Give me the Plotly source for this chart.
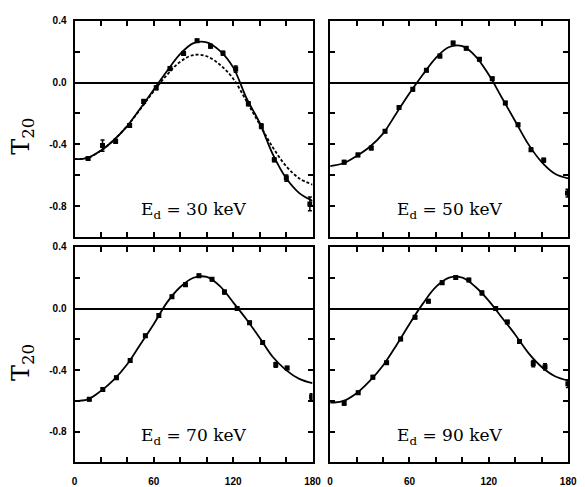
import plotly.graph_objects as go

# ---------------- data ----------------
labels = ["30", "50", "70", "90"]

# measured points: angle (deg), T20, error
ang30 = [10.3, 21.2, 31.1, 41.7, 52.3, 61.8, 72.2, 82.5, 92.7, 102.9, 112.3, 121.9, 131.5, 141.3, 151.1, 160.2, 178.0]
t30 = [-0.492, -0.408, -0.38, -0.278, -0.122, -0.034, 0.09, 0.188, 0.27, 0.235, 0.19, 0.087, -0.138, -0.282, -0.50, -0.618, -0.785]
e30 = [0.01, 0.037, 0.012, 0.012, 0.012, 0.012, 0.012, 0.012, 0.01, 0.012, 0.012, 0.02, 0.012, 0.015, 0.012, 0.02, 0.045]

ang50 = [10.6, 21.0, 31.1, 41.5, 52.1, 62.5, 72.8, 83.0, 93.0, 102.9, 112.9, 122.6, 132.5, 142.1, 151.9, 161.5, 179.5]
t50 = [-0.515, -0.468, -0.424, -0.315, -0.162, -0.044, 0.079, 0.171, 0.255, 0.222, 0.15, 0.024, -0.132, -0.273, -0.434, -0.502, -0.715]
e50 = [0.01, 0.01, 0.01, 0.01, 0.01, 0.01, 0.01, 0.01, 0.01, 0.01, 0.01, 0.01, 0.01, 0.01, 0.01, 0.012, 0.025]

ang70 = [11.2, 21.4, 31.7, 42.1, 53.6, 63.8, 73.7, 83.9, 94.1, 104.0, 113.4, 123.0, 132.4, 142.3, 152.2, 160.8, 179.3]
t70 = [-0.589, -0.526, -0.45, -0.337, -0.177, -0.045, 0.077, 0.155, 0.213, 0.19, 0.107, 0.0, -0.093, -0.221, -0.366, -0.387, -0.573]
e70 = [0.01, 0.01, 0.01, 0.01, 0.01, 0.01, 0.01, 0.01, 0.01, 0.01, 0.012, 0.01, 0.01, 0.01, 0.015, 0.01, 0.02]

ang90 = [10.6, 21.2, 32.3, 42.7, 53.3, 64.2, 74.3, 84.7, 95.0, 104.9, 114.8, 125.2, 134.0, 143.2, 153.6, 162.5, 179.8]
t90 = [-0.615, -0.547, -0.446, -0.352, -0.198, -0.057, 0.048, 0.168, 0.202, 0.185, 0.101, 0.0, -0.088, -0.215, -0.358, -0.379, -0.488]
e90 = [0.012, 0.01, 0.01, 0.01, 0.01, 0.01, 0.01, 0.01, 0.01, 0.01, 0.012, 0.01, 0.01, 0.01, 0.02, 0.02, 0.025]

# fitted curves, read every 10 degrees
curve_ang = [0, 10, 20, 30, 40, 50, 60, 70, 80, 90, 100, 110, 120, 130, 140, 150, 160, 170, 180]
fit30 = [-0.495, -0.487, -0.44, -0.37, -0.28, -0.165, -0.045, 0.075, 0.185, 0.255, 0.26, 0.205, 0.098, -0.1, -0.26, -0.465, -0.618, -0.715, -0.765]
dot30 = [-0.495, -0.487, -0.44, -0.37, -0.28, -0.17, -0.055, 0.05, 0.135, 0.178, 0.17, 0.115, 0.025, -0.12, -0.27, -0.42, -0.54, -0.62, -0.66]
fit50 = [-0.54, -0.522, -0.475, -0.415, -0.33, -0.2, -0.07, 0.05, 0.16, 0.23, 0.235, 0.17, 0.05, -0.1, -0.25, -0.4, -0.515, -0.59, -0.62]
fit70 = [-0.6, -0.59, -0.535, -0.46, -0.36, -0.23, -0.1, 0.04, 0.14, 0.2, 0.205, 0.145, 0.04, -0.07, -0.19, -0.315, -0.40, -0.457, -0.485]
fit90 = [-0.612, -0.6, -0.55, -0.47, -0.37, -0.24, -0.1, 0.03, 0.14, 0.2, 0.2, 0.14, 0.05, -0.06, -0.17, -0.29, -0.38, -0.44, -0.468]

xtick_vals = [0, 60, 120, 180]
xtick_text = ["0", "60", "120", "180"]
xminor_vals = [20, 40, 80, 100, 140, 160]
ytick_vals = [-0.8, -0.4, 0.0, 0.4]
ytick_text = ["-0.8", "-0.4", "0.0", "0.4"]
yminor_vals = [-0.6, -0.2, 0.2]

# ---------------- figure ----------------
W, H = 585, 487
xdom = [[73 / W, 316 / W], [334 / W, 577 / W]]
ydom = [[1 - 236 / H, 1 - 15 / H], [1 - 466 / H, 1 - 246 / H]]

panels = [
    (ang30, t30, e30, [fit30], labels[0], 0, 0),
    (ang50, t50, e50, [fit50], labels[1], 1, 0),
    (ang70, t70, e70, [fit70], labels[2], 0, 1),
    (ang90, t90, e90, [fit90], labels[3], 1, 1),
]

fig = go.Figure()
layout = {}
annotations = []
for i, (ang, t, e, fits, lab, col, row) in enumerate(panels):
    n = i + 1
    xa = "x" if n == 1 else f"x{n}"
    ya = "y" if n == 1 else f"y{n}"
    fig.add_trace(go.Scatter(x=curve_ang, y=fits[0], mode="lines", line_shape="spline",
                             line=dict(color="black", width=1.8), xaxis=xa, yaxis=ya,
                             showlegend=False, hoverinfo="skip"))
    if n == 1:
        fig.add_trace(go.Scatter(x=curve_ang, y=dot30, mode="lines", line_shape="spline",
                                 line=dict(color="black", width=1.8, dash="3px,2px"),
                                 xaxis=xa, yaxis=ya, showlegend=False, hoverinfo="skip"))
    fig.add_trace(go.Scatter(x=ang, y=t, mode="markers",
                             marker=dict(symbol="square", size=5, color="black"),
                             error_y=dict(type="data", array=e, visible=True, color="black",
                                          thickness=1.5, width=2),
                             xaxis=xa, yaxis=ya, showlegend=False))
    axstyle = dict(showline=True, linecolor="black", linewidth=2, mirror="ticks",
                   ticks="inside", ticklen=5, tickwidth=1.5, tickcolor="black",
                   showgrid=False)
    minor_style = dict(ticks="inside", ticklen=5, tickwidth=1.5, tickcolor="black",
                       showgrid=False)
    tf = dict(family="Liberation Sans", size=10, color="black", weight="bold")
    layout["xaxis" if n == 1 else f"xaxis{n}"] = dict(
        domain=xdom[col], range=[0, 180], anchor=ya, zeroline=False,
        tickmode="array", tickvals=xtick_vals, ticktext=xtick_text,
        minor=dict(tickmode="array", tickvals=xminor_vals, **minor_style),
        showticklabels=(row == 1), ticklabelstandoff=9, tickfont=tf,
        **axstyle)
    layout["yaxis" if n == 1 else f"yaxis{n}"] = dict(
        domain=ydom[row], range=[-1.0, 0.4], anchor=xa,
        zeroline=True, zerolinecolor="black", zerolinewidth=1.6,
        tickmode="array", tickvals=ytick_vals, ticktext=ytick_text,
        minor=dict(tickmode="array", tickvals=yminor_vals, **minor_style),
        showticklabels=(col == 0), ticklabelstandoff=4, tickfont=tf,
        **axstyle)
    annotations.append(dict(x=90, y=-0.83, xref=xa, yref=ya, showarrow=False,
                            text=f"E<sub>d</sub> = {lab} keV",
                            font=dict(family="DejaVu Serif", size=17, color="black"),
                            xanchor="center", yanchor="middle"))

for yc in [133, 364]:
    annotations.append(dict(x=20 / W, y=1 - yc / H, xref="paper", yref="paper",
                            showarrow=False, text="T<sub>20</sub>", textangle=-90,
                            font=dict(family="DejaVu Serif", size=24, color="black"),
                            xanchor="center", yanchor="middle"))

fig.update_layout(width=W, height=H, margin=dict(l=0, r=0, t=0, b=0),
                  paper_bgcolor="white", plot_bgcolor="white",
                  annotations=annotations, **layout)

fig.write_html("out.html")
